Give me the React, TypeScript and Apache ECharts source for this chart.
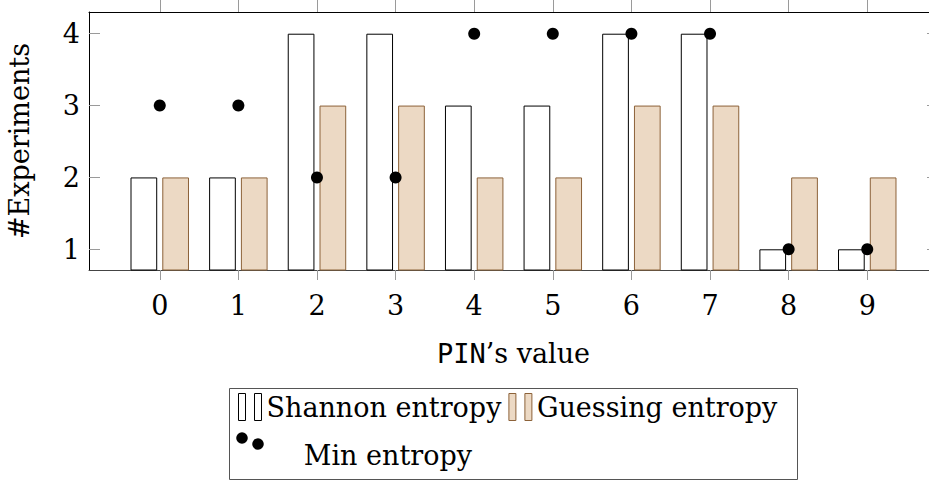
import React, { useEffect, useRef } from 'react';
import * as echarts from 'echarts';

const pinValues = [0, 1, 2, 3, 4, 5, 6, 7, 8, 9];
const shannon = [2, 2, 4, 4, 3, 3, 4, 4, 1, 1];
const guessing = [2, 2, 3, 3, 2, 2, 3, 3, 2, 2];
const minEntropy = [3, 3, 2, 2, 4, 4, 4, 4, 1, 1];
const yTicks = [1, 2, 3, 4];

const SERIF = 'DejaVu Serif';
const MONO = 'DejaVu Sans Mono';
const barIcon = 'path://M0,0H7V27H0Z M16,0H23V27H16Z';
const dotsIcon =
  'path://M0,5.8a5.8,5.8 0 1,0 11.6,0a5.8,5.8 0 1,0 -11.6,0Z M16,11.8a5.8,5.8 0 1,0 11.6,0a5.8,5.8 0 1,0 -11.6,0Z';

const GUESS_FILL = '#ecd9c4';
const GUESS_BORDER = '#8c6239';
const TICK = '#9a9a9a';

export default function App() {
  const ref = useRef<HTMLDivElement>(null);
  useEffect(() => {
    if (!ref.current) return;
    const chart = echarts.init(ref.current, undefined, { renderer: 'svg' });
    const xBase = {
      type: 'value' as const,
      min: -0.9,
      max: 9.9,
      splitLine: { show: false },
    };
    const yBase = {
      type: 'value' as const,
      min: 0.712,
      max: 4.302,
      splitLine: { show: false },
    };
    chart.setOption({
      animation: false,
      backgroundColor: '#fff',
      grid: { left: 89, top: 12, width: 849, height: 258, outerBoundsMode: 'none', containLabel: false },
      xAxis: [
        {
          ...xBase,
          position: 'bottom',
          axisLine: { show: true, onZero: false, lineStyle: { color: '#444', width: 1 } },
          axisTick: { show: true, inside: false, length: 10, lineStyle: { color: TICK }, customValues: pinValues },
          axisLabel: { show: true, customValues: pinValues, margin: 22, fontSize: 27, fontFamily: SERIF, color: '#000' },
          name: '{tt|PIN}’s value',
          nameLocation: 'middle',
          nameGap: 70,
          nameTextStyle: {
            fontSize: 27,
            fontFamily: SERIF,
            color: '#000',
            rich: { tt: { fontSize: 27, fontFamily: MONO, color: '#000' } },
          },
        },
        {
          ...xBase,
          position: 'top',
          axisLine: { show: true, onZero: false, lineStyle: { color: '#000', width: 1 } },
          axisTick: { show: true, inside: false, length: 12, lineStyle: { color: TICK }, customValues: pinValues },
          axisLabel: { show: false },
        },
      ],
      yAxis: [
        {
          ...yBase,
          position: 'left',
          axisLine: { show: true, onZero: false, lineStyle: { color: '#000', width: 1 } },
          axisTick: { show: true, inside: true, length: 11, lineStyle: { color: TICK }, customValues: yTicks },
          axisLabel: { show: true, customValues: yTicks, margin: 9, fontSize: 27, fontFamily: SERIF, color: '#000' },
          name: '#Experiments',
          nameLocation: 'middle',
          nameGap: 56,
          nameTextStyle: { fontSize: 27, fontFamily: SERIF, color: '#000' },
        },
        {
          ...yBase,
          position: 'right',
          axisLine: { show: true, onZero: false, lineStyle: { color: '#000', width: 1 } },
          axisTick: { show: true, inside: true, length: 11, lineStyle: { color: TICK }, customValues: yTicks },
          axisLabel: { show: false },
        },
      ],
      legend: [
        {
          left: 238,
          top: 393,
          padding: 0,
          orient: 'horizontal',
          itemWidth: 23,
          itemHeight: 27,
          itemGap: 7,
          selectedMode: false,
          textStyle: { fontSize: 27, fontFamily: SERIF, color: '#000' },
          data: [
            { name: 'Shannon entropy', icon: barIcon, itemStyle: { color: '#fff', borderColor: '#000', borderWidth: 1, opacity: 1 } },
            {
              name: 'Guessing entropy',
              icon: barIcon,
              itemStyle: { color: GUESS_FILL, borderColor: GUESS_BORDER, borderWidth: 1, opacity: 1 },
            },
          ],
        },
        {
          left: 236.2,
          top: 432.2,
          padding: 0,
          itemWidth: 27.6,
          itemHeight: 17.6,
          selectedMode: false,
          formatter: (n: string) => `{m|${n}}`,
          textStyle: {
            fontSize: 27,
            fontFamily: SERIF,
            color: '#000',
            rich: { m: { fontSize: 27, fontFamily: SERIF, color: '#000', padding: [30, 0, 0, 35] } },
          },
          data: [{ name: 'Min entropy', icon: dotsIcon, itemStyle: { color: '#000', borderWidth: 0, opacity: 1 } }],
        },
      ],
      graphic: [
        {
          type: 'rect',
          shape: { x: 229.5, y: 388.5, width: 568, height: 91 },
          style: { fill: 'none', stroke: '#555', lineWidth: 1 },
          z: 0,
        },
      ],
      series: [
        {
          name: 'Shannon entropy',
          type: 'bar',
          xAxisIndex: 0,
          yAxisIndex: 0,
          barWidth: 26.7,
          barGap: '19%',
          clip: true,
          data: pinValues.map((x, i) => [x, shannon[i]]),
          itemStyle: { color: '#fff', borderColor: '#000', borderWidth: 1 },
        },
        {
          name: 'Guessing entropy',
          type: 'bar',
          xAxisIndex: 0,
          yAxisIndex: 0,
          barWidth: 26.7,
          barGap: '19%',
          clip: true,
          data: pinValues.map((x, i) => [x, guessing[i]]),
          itemStyle: { color: GUESS_FILL, borderColor: GUESS_BORDER, borderWidth: 1 },
        },
        {
          name: 'Min entropy',
          type: 'scatter',
          xAxisIndex: 0,
          yAxisIndex: 0,
          symbol: 'circle',
          symbolSize: 12,
          z: 5,
          data: pinValues.map((x, i) => [x, minEntropy[i]]),
          itemStyle: { color: '#000', opacity: 1 },
        },
      ],
    });
    return () => chart.dispose();
  }, []);
  return <div ref={ref} style={{ position: 'fixed', left: 0, top: 0, width: 929, height: 481 }} />;
}
